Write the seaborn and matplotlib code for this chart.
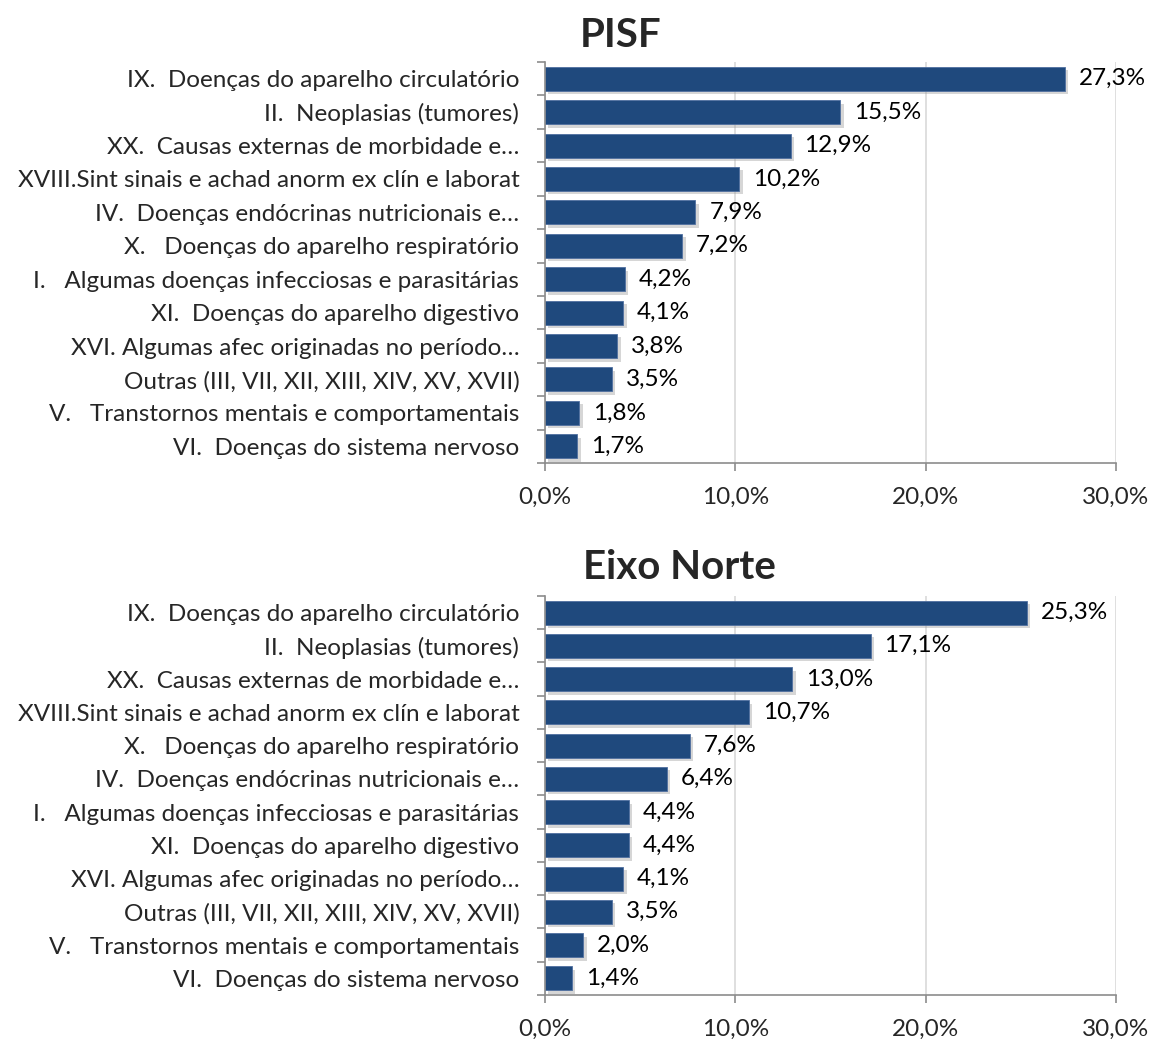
import pandas as pd
import numpy as np
import seaborn as sns
import matplotlib
matplotlib.use("Agg")
import matplotlib.pyplot as plt
import matplotlib.patheffects as pe
from matplotlib.ticker import FixedLocator

# dados
cats_pisf = ["IX.  Doenças do aparelho circulatório",
             "II.  Neoplasias (tumores)",
             "XX.  Causas externas de morbidade e…",
             "XVIII.Sint sinais e achad anorm ex clín e laborat",
             "IV.  Doenças endócrinas nutricionais e…",
             "X.   Doenças do aparelho respiratório",
             "I.   Algumas doenças infecciosas e parasitárias",
             "XI.  Doenças do aparelho digestivo",
             "XVI. Algumas afec originadas no período…",
             "Outras (III, VII, XII, XIII, XIV, XV, XVII)",
             "V.   Transtornos mentais e comportamentais",
             "VI.  Doenças do sistema nervoso"]
vals_pisf = [27.3, 15.5, 12.9, 10.2, 7.9, 7.2, 4.2, 4.1, 3.8, 3.5, 1.8, 1.7]

cats_norte = ["IX.  Doenças do aparelho circulatório",
              "II.  Neoplasias (tumores)",
              "XX.  Causas externas de morbidade e…",
              "XVIII.Sint sinais e achad anorm ex clín e laborat",
              "X.   Doenças do aparelho respiratório",
              "IV.  Doenças endócrinas nutricionais e…",
              "I.   Algumas doenças infecciosas e parasitárias",
              "XI.  Doenças do aparelho digestivo",
              "XVI. Algumas afec originadas no período…",
              "Outras (III, VII, XII, XIII, XIV, XV, XVII)",
              "V.   Transtornos mentais e comportamentais",
              "VI.  Doenças do sistema nervoso"]
vals_norte = [25.3, 17.1, 13.0, 10.7, 7.6, 6.4, 4.4, 4.4, 4.1, 3.5, 2.0, 1.4]

titles = ["PISF", "Eixo Norte"]
xticks = [0, 10, 20, 30]

sns.set_style("white")
plt.rcParams['font.family'] = ['Lato', 'DejaVu Sans']

fig = plt.figure(figsize=(11.52, 10.39), dpi=100)
ax1 = fig.add_axes([0.4731, 0.5544, 0.4957, 0.3859])
ax2 = fig.add_axes([0.4731, 0.0424, 0.4957, 0.3840])

bar_color = "#1F497D"
fs = 17.5
for ax, cats, vals, title, tx, ty in [(ax1, cats_pisf, vals_pisf, titles[0], 0.539, 0.966),
                                      (ax2, cats_norte, vals_norte, titles[1], 0.59, 0.454)]:
    df = pd.DataFrame({"cat": cats, "val": vals})
    sns.barplot(data=df, x="val", y="cat", orient="h", color=bar_color,
                width=0.72, ax=ax, saturation=1)
    for p in ax.patches:
        p.set_edgecolor("#4F6FA0")
        p.set_linewidth(0.6)
        p.set_path_effects([pe.SimplePatchShadow(offset=(2.5, -2.5), shadow_rgbFace="#999999", alpha=0.4),
                            pe.Normal()])
    ax.bar_label(ax.containers[0],
                 labels=[f"{v:.1f}%".replace(".", ",") for v in vals],
                 padding=10, fontsize=fs, color="black")
    ax.set_xlim(0, 30)
    ax.set_ylim(len(cats) - 0.5, -0.5)
    ax.set_xticks(xticks)
    ax.set_xticklabels([f"{t:.1f}%".replace(".", ",") for t in xticks], fontsize=fs)
    ax.set_yticklabels(cats, fontsize=fs)
    ax.set_xlabel("")
    ax.set_ylabel("")
    ax.grid(axis="x", color="#D9D9D9", linewidth=1.2)
    ax.set_axisbelow(True)
    for s in ["top", "right"]:
        ax.spines[s].set_visible(False)
    for s in ["left", "bottom"]:
        ax.spines[s].set_color("#8C8C8C")
        ax.spines[s].set_linewidth(1.2)
    ax.tick_params(axis="x", bottom=True, length=6, color="#8C8C8C", width=1.2, pad=11)
    ax.tick_params(axis="y", left=False, pad=15)
    ax.yaxis.set_minor_locator(FixedLocator(np.arange(-0.5, len(cats), 1)))
    ax.tick_params(axis="y", which="minor", left=True, length=6, color="#8C8C8C", width=1.2)
    fig.text(tx, ty, title, fontsize=29, fontweight="bold", ha="center", va="center")

fig.savefig("out.png", dpi=100)
